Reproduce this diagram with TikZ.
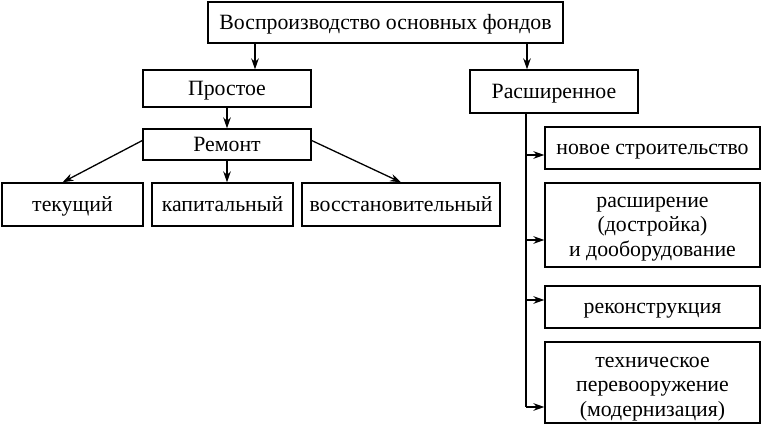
\documentclass[tikz,border=0pt]{standalone}
\usepackage{fontspec}
\setmainfont{Liberation Serif}
\usetikzlibrary{arrows.meta}

\begin{document}
\begin{tikzpicture}[%
        x = 0.5pt,
        y = -0.5pt,
        font = \fontsize{10.9}{12.3}\selectfont,
        > = {Stealth[length=5.5pt, width=3.8pt]},
        line width = 0.65pt,
        box/.style = {draw, inner sep = 0pt, align = center},
        oneline/.style = {box, text height = 9.5pt, text depth = 2.5pt}
    ]

        % Page frame.
        \useasboundingbox (0, 0) rectangle (761, 427);

        % Top of the scheme and its two kinds.
        \node[oneline, minimum width = 177.5pt, minimum height = 20.5pt] (fonds) at (385.5, 22.5) {Воспроизводство основных фондов};
        \node[oneline, minimum width = 84pt, minimum height = 18.5pt] (simple) at (227, 88.5) {Простое};
        \node[oneline, minimum width = 84pt, minimum height = 15.5pt] (repair) at (227, 144.5) {Ремонт};
        \node[oneline, minimum width = 84pt, minimum height = 21.5pt] (extended) at (554, 91.5) {Расширенное};

        % Kinds of repair.
        \node[oneline, minimum width = 70.5pt, minimum height = 21.5pt] (current) at (72.5, 204.5) {текущий};
        \node[oneline, minimum width = 70.5pt, minimum height = 21.5pt] (capital) at (222.5, 204.5) {капитальный};
        \node[oneline, minimum width = 99pt, minimum height = 21.5pt] (restore) at (401, 204.5) {восстановительный};

        % Kinds of extended reproduction.
        \node[oneline, minimum width = 107.5pt, minimum height = 21pt] (newbuild) at (652.5, 148) {новое строительство};
        \node[box, minimum width = 107.5pt, minimum height = 42pt, text height = 33.5pt, text depth = 2pt] (widening) at (652.5, 225) {расширение\\(достройка)\\и дооборудование};
        \node[oneline, minimum width = 107.5pt, minimum height = 21pt] (rebuild) at (652.5, 307) {реконструкция};
        \node[box, minimum width = 107.5pt, minimum height = 40.5pt, text height = 36pt, text depth = 2pt] (upgrade) at (652.5, 382.5) {техническое\\перевооружение\\(модернизация)};

        % Points where the arrows leave the boxes.
        \coordinate (t1) at (255, 0);
        \coordinate (t2) at (527, 0);
        \coordinate (s1) at (526, 155);
        \coordinate (s2) at (526, 240);
        \coordinate (s3) at (526, 300);
        \coordinate (s4) at (526, 407);

        % Arrows from the top box.
        \draw[->] (fonds.south -| t1) to (simple.north -| t1);
        \draw[->] (fonds.south -| t2) to (extended.north -| t2);
        \draw[->] (simple) to (repair);

        % Arrows to the kinds of repair.
        \draw[->] ([yshift = 2pt]repair.west) to ([xshift = -5pt]current.north);
        \draw[->] (repair) to (capital.north -| repair);
        \draw[->] ([yshift = 2pt]repair.east) to (restore.north);

        % The spine and its branches.
        \draw (extended.south -| s1) to (s4);
        \foreach \p/\b in {s1/newbuild, s2/widening, s3/rebuild, s4/upgrade}{
            \draw[->] (\p) to (\p -| \b.west);
        }
    \end{tikzpicture}
\end{document}
